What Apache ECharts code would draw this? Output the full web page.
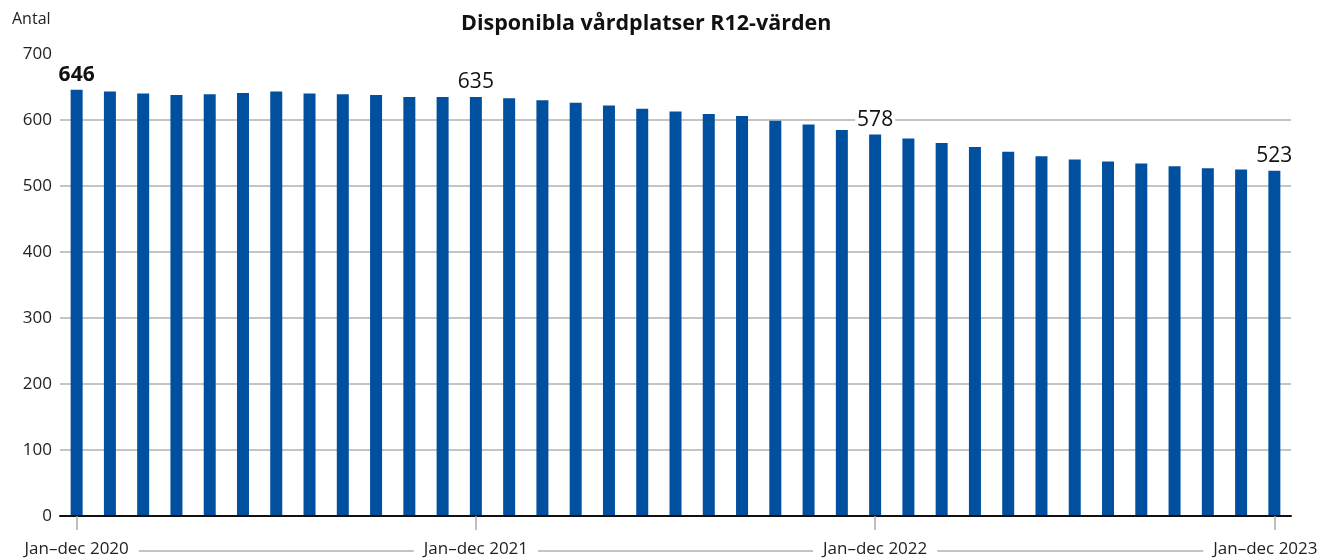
<!DOCTYPE html>
<html>
<head>
<meta charset="utf-8">
<script src="https://cdn.jsdelivr.net/npm/echarts@6/dist/echarts.min.js"></script>
<style>
  html, body { margin: 0; padding: 0; background: #fff; }
  #chart { width: 1320px; height: 560px; }
</style>
</head>
<body>
<div id="chart"></div>
<script>
// R12 = rullande 12 månader, en stapel per månad
const periods = [
  "Jan–dec 2020", "Feb 2020–jan 2021", "Mar 2020–feb 2021", "Apr 2020–mar 2021",
  "Maj 2020–apr 2021", "Jun 2020–maj 2021", "Jul 2020–jun 2021", "Aug 2020–jul 2021",
  "Sep 2020–aug 2021", "Okt 2020–sep 2021", "Nov 2020–okt 2021", "Dec 2020–nov 2021",
  "Jan–dec 2021", "Feb 2021–jan 2022", "Mar 2021–feb 2022", "Apr 2021–mar 2022",
  "Maj 2021–apr 2022", "Jun 2021–maj 2022", "Jul 2021–jun 2022", "Aug 2021–jul 2022",
  "Sep 2021–aug 2022", "Okt 2021–sep 2022", "Nov 2021–okt 2022", "Dec 2021–nov 2022",
  "Jan–dec 2022", "Feb 2022–jan 2023", "Mar 2022–feb 2023", "Apr 2022–mar 2023",
  "Maj 2022–apr 2023", "Jun 2022–maj 2023", "Jul 2022–jun 2023", "Aug 2022–jul 2023",
  "Sep 2022–aug 2023", "Okt 2022–sep 2023", "Nov 2022–okt 2023", "Dec 2022–nov 2023",
  "Jan–dec 2023"
];
const platser = [
  646, 643, 640, 638, 639, 641, 643, 640, 639, 638, 635, 635,
  635, 633, 630, 626, 622, 617, 613, 609, 606, 599, 593, 585,
  578, 572, 565, 559, 552, 545, 540, 537, 534, 530, 527, 525,
  523
];
const labelIdx = [0, 12, 24, 36];   // staplar med värde utskrivet
const yTicks = [0, 100, 200, 300, 400, 500, 600, 700];

const font = "'Open Sans', sans-serif";

const barData = platser.map((v, i) => {
  let item = { value: v };
  if (labelIdx.includes(i)) {
    item.label = {
      show: true,
      position: "top",
      distance: 4,
      fontSize: 21,
      color: "#111",
      fontFamily: font,
      fontWeight: i === 0 ? "bold" : "normal",
      backgroundColor: i === 24 ? "#fff" : "transparent",
      padding: [0, 2],
    };
  }
  return item;
});

const myChart = echarts.init(document.getElementById("chart"));
myChart.setOption({
  animation: false,
  title: [
    {
      text: "Disponibla vårdplatser R12-värden",
      left: 456,
      top: 8,
      textStyle: { fontFamily: font, fontSize: 21.5, fontWeight: "bold", color: "#111" },
    },
    {
      text: "Antal",
      left: 7,
      top: 6,
      textStyle: { fontFamily: font, fontSize: 16, fontWeight: "normal", color: "#222" },
    },
  ],
  grid: { left: 60, right: 29, top: 54, bottom: 44, outerBoundsMode: "none" },
  xAxis: [
    {
      type: "category",
      data: periods,
      z: 3,
      axisLine: { lineStyle: { color: "#111", width: 2 } },
      axisTick: {
        show: true,
        interval: 11,
        alignWithLabel: true,
        length: 14,
        lineStyle: { color: "#aaa", width: 1.5 },
      },
      axisLabel: {
        interval: (i) => labelIdx.includes(i),
        formatter: (val, i) => (i === periods.length - 1 ? "{last|" + val + "}" : val),
        rich: {
          last: { fontFamily: font, fontSize: 17, color: "#222", padding: [0, 18, 0, 0] },
        },
        fontFamily: font,
        fontSize: 17,
        color: "#222",
        margin: 25,
        backgroundColor: "#fff",
        padding: [0, 10],
      },
    },
    {
      type: "value",
      position: "bottom",
      offset: 35,
      min: 0,
      max: 1,
      z: 1,
      axisLine: { show: true, lineStyle: { color: "#c4c4c4", width: 2 } },
      axisTick: { show: false },
      axisLabel: { show: false },
      splitLine: { show: false },
    },
  ],
  yAxis: {
    type: "value",
    min: yTicks[0],
    max: yTicks[yTicks.length - 1],
    interval: 100,
    axisLine: { show: false },
    axisTick: { show: false },
    axisLabel: {
      fontFamily: font,
      fontSize: 17,
      color: "#222",
      margin: 8,
    },
    splitLine: {
      show: true,
      showMaxLine: false,
      lineStyle: { color: "#c4c4c4", width: 2 },
    },
  },
  series: [
    {
      type: "bar",
      name: "Disponibla vårdplatser",
      xAxisIndex: 0,
      data: barData,
      barWidth: 12,
      itemStyle: { color: "#00509f" },
    },
  ],
});
</script>
</body>
</html>
